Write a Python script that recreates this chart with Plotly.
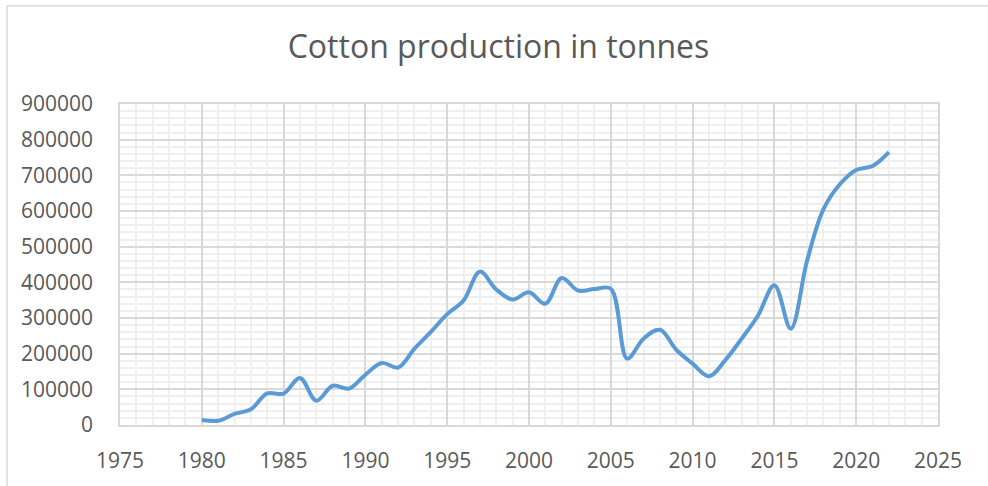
import plotly.graph_objects as go

years = list(range(1980, 2023))
production = [
    14000, 12000, 31000, 44000, 88500, 88000, 132000, 68000, 110000, 102000,
    141000, 174000, 161000, 214000, 261000, 311000, 349000, 430000, 380000, 352000,
    372000, 340000, 412000, 377000, 381000, 382000, 186000, 242000, 267000, 211000,
    172000, 137000, 182000, 242000, 307000, 392000, 270000, 461000, 605000, 675000,
    715000, 726000, 765000,
]

title_text = "Cotton production in tonnes"
x_ticks = [1975, 1980, 1985, 1990, 1995, 2000, 2005, 2010, 2015, 2020, 2025]
y_ticks = [0, 100000, 200000, 300000, 400000, 500000, 600000, 700000, 800000, 900000]

FONT = "Open Sans"
TEXT = "#595959"
MAJOR = "#d9d9d9"
MINOR = "#efefef"

fig = go.Figure()
fig.add_trace(go.Scatter(
    x=years, y=production, mode="lines",
    line=dict(color="#5B9BD5", width=4, shape="spline", smoothing=1.0),
    showlegend=False, hoverinfo="x+y",
))

W, H = 988, 486
ml, mr, mt, mb = 119.5, 50, 104.3, 59.3

fig.update_layout(
    width=W, height=H,
    margin=dict(l=ml, r=mr, t=mt, b=mb, pad=0),
    paper_bgcolor="white", plot_bgcolor="white",
    font=dict(family=FONT, color=TEXT, size=21),
    title=dict(text=title_text, x=498.5 / W, xanchor="center", xref="container",
               y=1 - 47 / H, yanchor="middle", yref="container",
               font=dict(family=FONT, size=32, color=TEXT)),
    xaxis=dict(
        range=[1975, 2025], tickvals=x_ticks, ticktext=[str(v) for v in x_ticks],
        showgrid=True, gridcolor=MAJOR, gridwidth=1.5,
        minor=dict(dtick=1, showgrid=True, gridcolor=MINOR, gridwidth=1.5),
        showline=True, linecolor=MAJOR, linewidth=1.5, mirror=True,
        ticks="outside", ticklen=16, tickcolor="rgba(0,0,0,0)",
        zeroline=False, fixedrange=True,
        tickfont=dict(family=FONT, size=21, color=TEXT),
    ),
    yaxis=dict(
        range=[0, 900000], tickvals=y_ticks, ticktext=[str(v) for v in y_ticks],
        showgrid=True, gridcolor=MAJOR, gridwidth=1.5,
        minor=dict(dtick=20000, tick0=0, showgrid=True, gridcolor=MINOR, gridwidth=1.5),
        showline=True, linecolor=MAJOR, linewidth=1.5, mirror=True,
        ticks="outside", ticklen=21, tickcolor="rgba(0,0,0,0)",
        zeroline=False, fixedrange=True,
        tickfont=dict(family=FONT, size=21, color=TEXT),
    ),
)

# outer chart border (right and bottom edges fall outside the picture)
pw = W - ml - mr
ph = H - mt - mb
x0 = (6.5 - ml) / pw
x1 = (W + 10 - ml) / pw
y1 = 1 + (mt - 5.5) / ph
y0 = -(mb + 10) / ph
fig.add_shape(type="rect", xref="paper", yref="paper",
              x0=x0, x1=x1, y0=y0, y1=y1,
              line=dict(color="#d9d9d9", width=1.5), layer="below")

fig.write_html("out.html", config={"displayModeBar": False},
               post_script="document.body.style.margin='0';document.body.style.overflow='hidden';")
